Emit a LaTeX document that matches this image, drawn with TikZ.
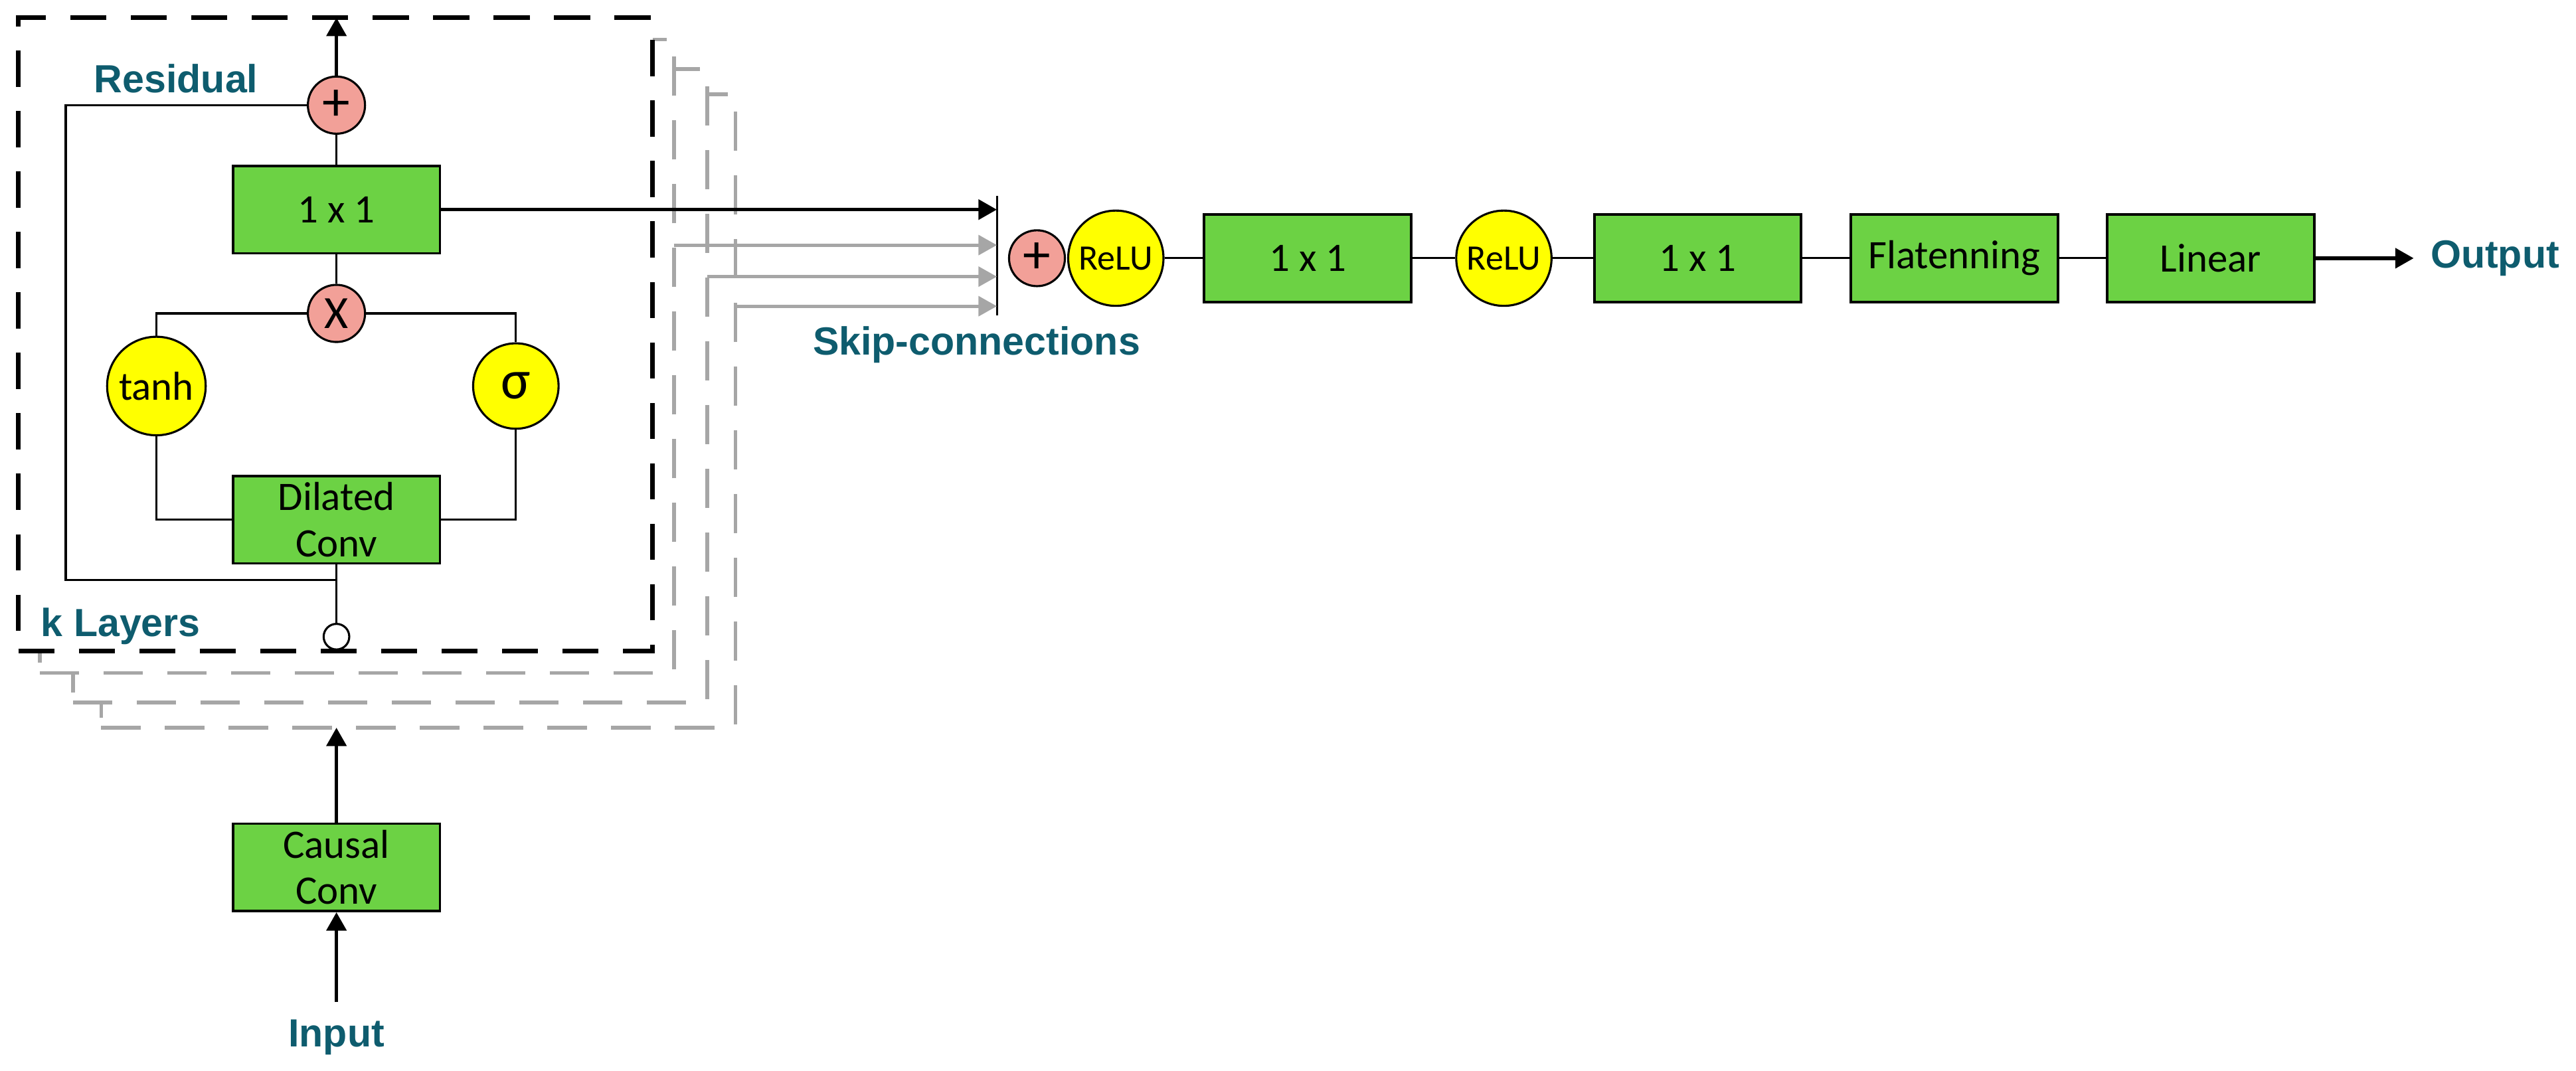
\documentclass[tikz,border=0pt]{standalone}
\usepackage{fontspec}
\setmainfont{Carlito}
\newfontfamily\lblfont{Liberation Sans}
\usetikzlibrary{positioning, arrows.meta, calc}
\definecolor{BoxGrn}  {HTML}{6CD244}
\definecolor{OpPink}  {HTML}{F2A098}
\definecolor{ActYel}  {HTML}{FFFF00}
\definecolor{LblTeal} {HTML}{0E5C6E}
\definecolor{StackGry}{HTML}{A6A6A6}

\begin{document}
\begin{tikzpicture}[
  every node/.style={align=center},
  block/.style   = {draw, fill=BoxGrn, line width=1.1pt, inner sep=0pt,
                    minimum width=3.15cm, minimum height=1.33cm,
                    font=\fontsize{17.5}{20}\selectfont},
  act/.style     = {circle, draw, fill=ActYel, line width=0.9pt, inner sep=0pt},
  opc/.style     = {circle, draw, fill=OpPink, line width=0.9pt, inner sep=0pt,
                    minimum size=0.87cm, font=\fontsize{24}{24}\selectfont},
  layerbox/.style= {draw, fill=white, line width=2pt, inner sep=0pt, outer sep=0pt,
                    dash pattern=on 0.55cm off 0.37cm,
                    minimum width=9.65cm, minimum height=9.64cm},
  stackbox/.style= {layerbox, draw=StackGry, line width=1.6pt,
                    dash pattern=on 0.6cm off 0.37cm},
  lbl/.style     = {font=\lblfont\bfseries\fontsize{17}{20}\selectfont, text=LblTeal},
  wire/.style    = {line width=0.9pt},
  arrow/.style   = {-{Triangle[length=0.28cm, width=0.3cm]}, line width=1.6pt},
  garrow/.style  = {arrow, StackGry, line width=1.4pt},
]
\useasboundingbox (0,0) rectangle (39.2,-16.3);

% ── Stacked layers ────────────────────────────────────────────────────────────
\node[stackbox] (stack3) at (6.365,-6.255) {};
\node[stackbox] (stack2) at (5.935,-5.870) {};
\node[stackbox] (stack1) at (5.430,-5.420) {};
\node[layerbox] (layer)  at (5.105,-5.090) {};

% ── Residual block ────────────────────────────────────────────────────────────
\node[opc]   (rsum) at (5.12,-1.60) {+};
\node[block] (mix)  at (5.12,-3.19) {1 x 1};
\node[opc, font=\fontsize{20}{20}\selectfont] (mul) at (5.12,-4.77) {X};
\node[act, minimum size=1.50cm, font=\fontsize{17.5}{20}\selectfont]
  (tanh) at (2.38,-5.875) {tanh};
\node[act, minimum size=1.30cm, font=\fontsize{24}{24}\selectfont]
  (sig)  at (7.85,-5.875) {σ};
\node[block] (dil)  at (5.12,-7.91) {Dilated\\Conv};
\node[circle, draw, fill=white, line width=0.9pt, minimum size=0.39cm, inner sep=0pt]
  (tap) at (5.12,-9.69) {};

\node[lbl] (reslbl) at (2.68,-1.20) {Residual};
\node[lbl, anchor=west] (klbl) at (0.50,-9.53) {k Layers};

\draw[arrow] (rsum.north) -- (rsum |- layer.north);
\draw[wire]  (mix) -- (rsum);
\draw[wire]  (mul) -- (mix);
\draw[wire]  (tanh.north) |- (mul.west);
\draw[wire]  (sig.north)  |- (mul.east);
\draw[wire]  (dil.west) -| (tanh.south);
\draw[wire]  (dil.east) -| (sig.south);
\draw[wire]  (dil.south) -- (tap.north);
\coordinate (rl) at (1.0,-8.83);
\draw[wire]  (rsum.west) -| (rl) -- (rl -| dil.south);

% ── Input ─────────────────────────────────────────────────────────────────────
\node[block] (causal) at (5.12,-13.20) {Causal\\Conv};
\node[lbl, anchor=north] (inlbl) at (5.12,-15.40) {Input};
\draw[arrow] (causal.north) -- (causal.north |- stack3.south);
\draw[arrow] ([yshift=0.15cm]inlbl.north) -- (causal.south);

% ── Skip connections ──────────────────────────────────────────────────────────
\coordinate (bt) at (15.17,-2.98);
\coordinate (bb) at (15.17,-4.80);
\draw[line width=0.8pt] (bt) -- (bb);
\draw[arrow] (mix.east) -- (mix.east -| bt);
\foreach \b/\y in {stack1/-3.73, stack2/-4.21, stack3/-4.66}{
  \draw[garrow] (\b.east |- 0,\y) -- (bt |- 0,\y);
}
\node[lbl] (skiplbl) at (14.86,-5.25) {Skip-connections};

% ── Output head ───────────────────────────────────────────────────────────────
\node[opc, minimum size=0.85cm] (osum) at (15.78,-3.93) {+};
\node[act, minimum size=1.45cm, font=\fontsize{15.5}{18}\selectfont]
  (relu1) at (16.98,-3.93) {ReLU};
\node[block] (head1) at (19.90,-3.93) {1 x 1};
\node[act, minimum size=1.45cm, font=\fontsize{15.5}{18}\selectfont]
  (relu2) at (22.885,-3.93) {ReLU};
\node[block] (head2) at (25.835,-3.93) {1 x 1};
\node[block] (flat)  at (29.74,-3.93) {Flatenning};
\node[block] (lin)   at (33.64,-3.93) {Linear};
\node[lbl, anchor=west, inner sep=0.25cm] (outlbl) at (36.73,-3.93) {Output};

\draw[wire] (relu1) -- (head1);
\draw[wire] (head1) -- (relu2);
\draw[wire] (relu2) -- (head2);
\draw[wire] (head2) -- (flat);
\draw[wire] (flat)  -- (lin);
\draw[arrow] (lin.east) -- (outlbl.west);

\end{tikzpicture}
\end{document}
